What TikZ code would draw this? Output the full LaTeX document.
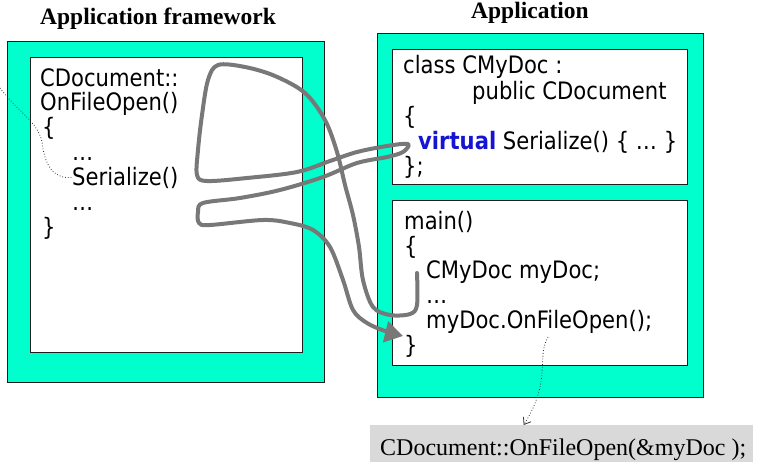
\documentclass[tikz,border=0pt]{standalone}
\usepackage{fontspec}
\usetikzlibrary{arrows.meta}
\newfontfamily\codefont{DejaVu Sans}[FakeStretch=0.88]
\newfontfamily\titlefont{Liberation Serif}
\definecolor{aqua}{RGB}{0,255,204}
\definecolor{pathgray}{RGB}{120,120,120}
\definecolor{vblue}{RGB}{20,20,210}
\definecolor{boxgray}{RGB}{217,217,217}
\definecolor{edge}{RGB}{30,30,30}
\begin{document}
\begin{tikzpicture}[x=1pt,y=-1pt,
  outerbox/.style={draw=edge, line width=1.2pt, fill=aqua, inner sep=0pt, anchor=north west},
  innerbox/.style={draw=edge, line width=1pt, fill=white, inner sep=0pt, anchor=north west},
  code/.style={font=\codefont\fontsize{24}{25}\selectfont, anchor=base west, inner sep=0pt},
  title/.style={font=\titlefont\bfseries\fontsize{23.5}{28}\selectfont, anchor=base west, inner sep=0pt},
  flow/.style={draw=pathgray, line width=4pt, line cap=round, line join=round},
  note/.style={draw=black!80, line width=0.8pt, dotted}]
\useasboundingbox (0,0) rectangle (761,471);
% boxes
\node[outerbox, minimum width=317pt, minimum height=341pt] (fwout) at (7,41) {};
\node[innerbox, minimum width=272pt, minimum height=295pt] (fwin) at (30,57) {};
\node[outerbox, minimum width=326pt, minimum height=364pt] (apout) at (377,33) {};
\node[innerbox, minimum width=295pt, minimum height=135pt] (apcls) at (392,49) {};
\node[innerbox, minimum width=295pt, minimum height=165pt] (apmain) at (392,200) {};
\node[fill=boxgray, minimum width=383pt, minimum height=37pt, anchor=north west, inner sep=0pt] (gbox) at (370,425) {};
\node[font=\titlefont\fontsize{24}{28}\selectfont, anchor=base west, inner sep=0pt] (gtxt) at (380,455) {CDocument::OnFileOpen(\&myDoc );};
% titles
\node[title] (t1) at (40,24) {Application framework};
\node[title] (t2) at (471,18.5) {Application};
% framework code
\node[code] (l1) at (40,86) {CDocument::};
\node[code] (l2) at (40,110) {OnFileOpen()};
\node[code] (l3) at (42,135) {\{};
\node[code] (l4) at (72,160) {…};
\node[code] (l5) at (72,185) {Serialize()};
\node[code] (l6) at (72,210) {…};
\node[code] (l7) at (42,235) {\}};
% class code
\node[code] (c1) at (403,73) {class CMyDoc :};
\node[code] (c2) at (472,99) {public CDocument};
\node[code] (c3) at (403,124) {\{};
\node[code] (c4) at (418,149) {{\bfseries\color{vblue}virtual} Serialize() \{ … \}};
\node[code] (c5) at (403,174) {\};};
% main code
\node[code] (m1) at (404,229) {main()};
\node[code] (m2) at (404,254) {\{};
\node[code] (m3) at (426,278) {CMyDoc myDoc;};
\node[code] (m4) at (426,303) {…};
\node[code] (m5) at (426,328) {myDoc.OnFileOpen();};
\node[code] (m6) at (404,353) {\}};
% dotted notes
\coordinate (lfree) at (0,88);
\draw[note] (lfree) .. controls (18,112) and (38,122) .. (42,142)
  .. controls (45,168) and (55,179) .. (l5.west);
\coordinate (callpt) at (548,337);
\draw[note, -{Straight Barb[length=6pt,width=9pt]}] (callpt) .. controls (536,358) and (552,380) .. ([xshift=-38pt]gbox.north);
% flow path
\coordinate (gs) at (417,273);
\coordinate (ge) at (403,336);
\draw[flow, -{Triangle[length=18pt,width=21pt]}] plot[smooth, tension=0.55] coordinates {
 (gs) (417,305) (410,314) (390,315) (373,307) (363,280) (359,247) (353,215)
 (345,185) (337,152) (325,120) (305,93) (275,76) (245,67) (218,65) (208,80)
 (202,115) (198,150) (197,175) (207,181) (247,178) (297,172) (330,161)
 (357,152) (387,146) (408,144) (403,152) (387,157) (357,163) (323,177)
 (280,190) (240,198) (203,203) (198,212) (199,223) (210,225) (263,220)
 (290,223) (313,230) (330,247) (343,280) (353,310) (367,323) (385,331) (ge)};
\end{tikzpicture}
\end{document}
